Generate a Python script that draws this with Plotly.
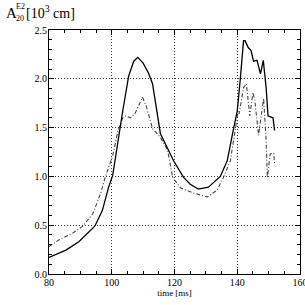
import plotly.graph_objects as go

# Solid series
t_solid = [80, 85.4, 89.5, 92.7, 94.6, 97, 99, 100.3, 101.3, 103.5, 105.4, 107, 108.3, 110,
           111.7, 113, 115.5, 119.7, 122.9, 125, 127.6, 130.8, 134.6, 136.8, 138.7, 140, 141,
           142, 142.5, 143.5, 144.4, 145.2, 146.3, 147.4, 148.3, 149.2, 149.8, 150.5, 151.4, 151.9]
v_solid = [0.17, 0.245, 0.33, 0.43, 0.49, 0.65, 0.89, 1.01, 1.23, 1.67, 2.03, 2.18, 2.22, 2.16,
           2.06, 1.95, 1.44, 1.16, 0.99, 0.92, 0.87, 0.89, 1.0, 1.16, 1.47, 1.67, 2.01,
           2.39, 2.39, 2.32, 2.29, 2.18, 2.19, 2.05, 2.19, 1.91, 1.62, 1.61, 1.60, 1.47]

# Dash-dot series
t_dd = [80, 83.2, 87.6, 90.8, 94, 96.5, 98, 100.3, 102, 103.5, 104.5, 106, 107.5, 109.8, 111,
        113, 115.5, 117.8, 119.4, 122, 126, 130.5, 133.6, 135.6, 137.8, 139.4, 140.3, 140.6,
        142, 142.9, 144, 145, 145.6, 146.8, 147.5, 148.4, 149.2, 149.6, 150.5, 151.6, 151.9]
v_dd = [0.28, 0.35, 0.42, 0.49, 0.62, 0.83, 1.0, 1.21, 1.47, 1.60, 1.62, 1.60, 1.65, 1.81, 1.72,
        1.49, 1.40, 1.27, 0.99, 0.88, 0.83, 0.79, 0.86, 0.99, 1.16, 1.47, 1.67, 1.64,
        1.91, 1.95, 1.62, 1.86, 1.78, 1.42, 1.57, 1.80, 1.37, 0.99, 1.23, 1.24, 1.13]

x_ticks = [80, 100, 120, 140, 160]
y_ticks = [0.0, 0.5, 1.0, 1.5, 2.0, 2.5]

SERIF = "Liberation Serif"

fig = go.Figure()
fig.add_trace(go.Scatter(x=t_dd, y=v_dd, mode="lines",
                         line=dict(color="#444444", width=1.1, dash="4px,2px,1px,2px"),
                         showlegend=False))
fig.add_trace(go.Scatter(x=t_solid, y=v_solid, mode="lines",
                         line=dict(color="black", width=1.3),
                         showlegend=False))

axis_common = dict(
    showline=True, linecolor="black", linewidth=1, mirror="ticks",
    ticks="inside", ticklen=5, tickcolor="black", tickwidth=1,
    showgrid=True, gridcolor="#333333", gridwidth=1, griddash="1px,2px",
    zeroline=False, automargin=False, ticklabeloverflow="allow",
    tickfont=dict(family=SERIF, size=10, color="black"),
)

fig.update_xaxes(range=[80, 160], tickvals=x_ticks, ticktext=[str(v) for v in x_ticks],
                 ticklabelstandoff=-1,
                 minor=dict(dtick=5, ticks="inside", ticklen=3, tickcolor="black", showgrid=False),
                 title=dict(text="time [ms]", font=dict(family=SERIF, size=9, color="black"), standoff=0),
                 **axis_common)
fig.update_yaxes(range=[0, 2.5], tickvals=y_ticks, ticktext=["%.1f" % v for v in y_ticks],
                 ticklabelstandoff=-1,
                 minor=dict(dtick=0.1, ticks="inside", ticklen=3, tickcolor="black", showgrid=False),
                 **axis_common)

W, H = 305, 305
L, T = 49, 30
R = W - 300
B = H - 274
pw, ph = W - L - R, H - T - B

def px(xs):
    return (xs - L) / pw

def py(ys):
    return (H - B - ys) / ph

anns = [
    dict(text="A", x=px(5), y=py(22), xanchor="left", yanchor="bottom", font=dict(size=15)),
    dict(text="E2", x=px(14.5), y=py(12), xanchor="left", yanchor="bottom", font=dict(size=8)),
    dict(text="20", x=px(14.5), y=py(23.5), xanchor="left", yanchor="bottom", font=dict(size=8)),
    dict(text="[10<sup>3</sup> cm]", x=px(25), y=py(22.5), xanchor="left", yanchor="bottom", font=dict(size=14)),
]
for a in anns:
    a["font"]["family"] = SERIF
    a["font"]["color"] = "black"
    fig.add_annotation(xref="paper", yref="paper", showarrow=False, borderpad=0, **a)

fig.update_layout(width=W, height=H, margin=dict(l=L, r=R, t=T, b=B),
                  paper_bgcolor="white", plot_bgcolor="white")

fig.write_html("out.html", config={"displayModeBar": False},
               post_script="document.body.style.margin='0';document.body.style.overflow='hidden';")
